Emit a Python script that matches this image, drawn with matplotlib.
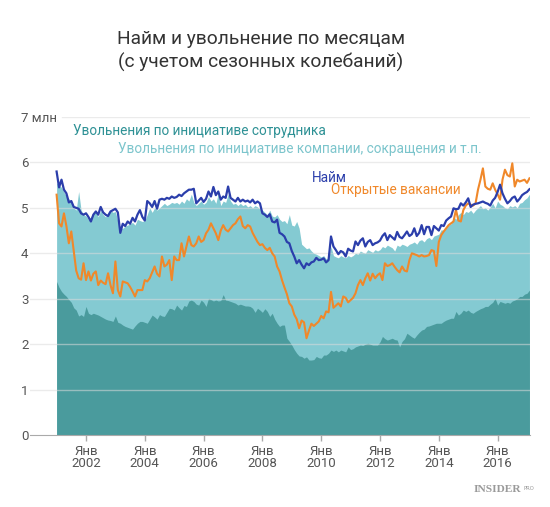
import matplotlib
matplotlib.use("Agg")
import matplotlib.pyplot as plt
import numpy as np

plt.rcParams["font.family"] = ["Roboto", "DejaVu Sans"]

# Monthly values, millions, Jan 2001 .. Feb 2017
hires = [
    5.80, 5.45, 5.62, 5.40, 5.32, 5.12, 5.15, 5.02, 5.00, 4.98, 4.88, 4.85,
    4.88, 4.80, 4.70, 4.85, 4.92, 4.85, 5.02, 4.90, 4.85, 4.82, 4.92, 4.95,
    4.98, 4.90, 4.45, 4.65, 4.60, 4.70, 4.65, 4.78, 4.70, 4.85, 4.95, 4.80,
    4.72, 5.15, 5.10, 5.02, 5.15, 4.98, 5.18, 5.20, 5.18, 5.22, 5.20, 5.25,
    5.22, 5.24, 5.29, 5.26, 5.32, 5.36, 5.40, 5.40, 5.42, 5.10, 5.16, 5.22,
    5.13, 5.20, 5.36, 5.25, 5.46, 5.28, 5.36, 5.18, 5.25, 5.22, 5.47, 5.22,
    5.18, 5.14, 5.22, 5.14, 5.18, 5.14, 5.16, 5.12, 5.18, 5.10, 5.14, 5.10,
    4.88, 4.85, 4.80, 4.86, 4.70, 4.68, 4.74, 4.45, 4.42, 4.37, 4.25, 4.22,
    4.05, 3.93, 3.78, 3.85, 3.75, 3.67, 3.78, 3.74, 3.80, 3.82, 3.90, 3.85,
    3.86, 3.89, 3.80, 3.85, 4.37, 4.15, 4.07, 3.98, 4.05, 4.02, 3.93, 4.10,
    4.06, 4.04, 4.26, 4.18, 4.28, 4.33, 4.15, 4.25, 4.29, 4.18, 4.22, 4.24,
    4.28, 4.38, 4.44, 4.29, 4.40, 4.35, 4.30, 4.47, 4.36, 4.33, 4.40, 4.48,
    4.38, 4.42, 4.55, 4.38, 4.45, 4.62, 4.42, 4.58, 4.58, 4.40, 4.60, 4.55,
    4.50, 4.62, 4.60, 4.72, 4.77, 4.81, 4.99, 4.97, 4.98, 5.10, 5.05, 5.12,
    5.21, 5.02, 5.07, 5.09, 5.10, 5.12, 5.14, 5.11, 5.09, 5.05, 5.16, 5.22,
    5.35, 5.51, 5.32, 5.20, 5.10, 5.15, 5.22, 5.25, 5.14, 5.20, 5.28, 5.32,
    5.35, 5.41,
]

openings = [
    5.29, 4.66, 4.59, 4.88, 4.60, 4.22, 4.48, 4.05, 3.62, 3.45, 3.42, 3.78,
    3.41, 3.60, 3.40, 3.55, 3.60, 3.30, 3.40, 3.35, 3.32, 3.56, 3.30, 3.12,
    3.82, 3.19, 3.05, 3.38, 3.36, 3.34, 3.26, 3.16, 3.05, 3.19, 3.19, 3.19,
    3.41, 3.38, 3.45, 3.58, 3.71, 3.55, 3.49, 3.93, 3.71, 3.75, 3.85, 3.41,
    3.93, 3.85, 3.85, 4.22, 3.93, 4.15, 4.37, 4.18, 4.15, 4.22, 4.37, 4.25,
    4.29, 4.44, 4.52, 4.66, 4.55, 4.44, 4.29, 4.50, 4.62, 4.52, 4.48, 4.55,
    4.62, 4.66, 4.75, 4.81, 4.60, 4.55, 4.62, 4.59, 4.45, 4.35, 4.25, 4.18,
    4.20, 4.12, 4.07, 4.12, 4.00, 3.93, 3.71, 3.60, 3.41, 3.25, 3.10, 2.90,
    2.83, 2.65, 2.55, 2.35, 2.52, 2.48, 2.13, 2.30, 2.45, 2.40, 2.45, 2.50,
    2.62, 2.57, 2.72, 2.70, 3.15, 2.80, 2.85, 2.90, 2.83, 3.05, 3.02, 2.92,
    2.97, 3.02, 3.12, 3.30, 3.41, 3.30, 3.45, 3.56, 3.40, 3.55, 3.45, 3.52,
    3.56, 3.41, 3.78, 3.72, 3.74, 3.78, 3.70, 3.63, 3.58, 3.71, 3.62, 3.60,
    3.85, 4.00, 3.98, 3.96, 3.93, 3.96, 3.93, 3.94, 3.96, 4.07, 4.05, 3.72,
    4.25, 4.40, 4.48, 4.55, 4.62, 4.66, 4.70, 4.96, 4.72, 4.70, 4.95, 5.05,
    5.10, 5.07, 5.05, 5.10, 5.40, 5.62, 5.87, 5.47, 5.42, 5.40, 5.54, 5.40,
    5.30, 5.18, 5.62, 5.84, 5.72, 5.69, 5.98, 5.47, 5.62, 5.58, 5.60, 5.62,
    5.55, 5.65,
]

# total separations (top of the light area)
separations = [
    5.55, 5.50, 5.45, 5.35, 5.25, 5.20, 5.10, 5.00, 4.95, 5.36, 4.95, 4.85,
    4.82, 4.75, 4.80, 4.90, 4.95, 4.80, 4.95, 4.85, 4.80, 4.90, 4.95, 4.90,
    4.92, 4.70, 4.55, 4.55, 4.60, 4.62, 4.65, 4.68, 4.62, 4.75, 4.72, 4.70,
    4.72, 4.85, 5.00, 4.90, 5.00, 4.95, 5.00, 5.05, 5.10, 5.05, 5.08, 5.12,
    5.10, 5.12, 5.08, 5.15, 5.10, 5.20, 5.15, 5.30, 5.12, 5.05, 5.10, 5.15,
    5.08, 5.12, 5.25, 5.15, 5.20, 5.10, 5.32, 5.05, 5.15, 5.12, 5.30, 5.15,
    5.08, 5.10, 5.05, 5.10, 5.05, 5.08, 5.02, 5.05, 5.00, 5.05, 5.02, 4.98,
    4.95, 4.90, 4.85, 4.95, 4.82, 4.80, 4.85, 4.75, 4.70, 4.72, 4.65, 4.85,
    4.62, 4.60, 4.70, 4.55, 4.20, 4.15, 4.10, 4.12, 4.05, 4.00, 3.98, 3.95,
    3.92, 3.95, 3.88, 3.90, 4.15, 3.95, 3.92, 3.90, 3.95, 3.92, 3.90, 3.95,
    3.92, 3.95, 4.00, 3.98, 4.05, 4.02, 4.00, 4.08, 4.05, 4.02, 4.08, 4.05,
    4.08, 4.15, 4.12, 4.18, 4.15, 4.12, 4.05, 4.18, 4.15, 4.20, 4.18, 4.15,
    4.20, 4.22, 4.25, 4.20, 4.28, 4.30, 4.25, 4.32, 4.35, 4.30, 4.38, 4.40,
    4.42, 4.52, 4.50, 4.58, 4.62, 4.65, 4.80, 4.75, 4.85, 4.90, 4.85, 4.92,
    4.90, 4.95, 4.88, 4.95, 5.00, 5.05, 4.98, 5.00, 4.95, 5.02, 5.10, 5.00,
    5.15, 5.08, 5.05, 5.00, 4.98, 5.05, 5.02, 5.05, 5.00, 5.10, 5.12, 5.18,
    5.22, 5.30,
]

# quits (top of the dark area)
quits = [
    3.38, 3.25, 3.16, 3.10, 3.05, 2.98, 2.92, 2.80, 2.75, 2.62, 2.65, 2.61,
    2.83, 2.68, 2.65, 2.68, 2.66, 2.64, 2.61, 2.58, 2.55, 2.53, 2.52, 2.50,
    2.62, 2.48, 2.46, 2.42, 2.39, 2.37, 2.35, 2.33, 2.40, 2.46, 2.50, 2.50,
    2.48, 2.46, 2.55, 2.64, 2.60, 2.55, 2.65, 2.62, 2.61, 2.70, 2.79, 2.78,
    2.75, 2.86, 2.80, 2.75, 2.85, 2.83, 2.95, 2.97, 2.94, 2.88, 2.86, 2.97,
    2.92, 2.83, 3.01, 2.98, 2.95, 2.97, 2.95, 2.96, 3.09, 2.97, 2.96, 2.94,
    2.92, 2.90, 2.86, 2.88, 2.86, 2.84, 2.84, 2.83, 2.79, 2.70, 2.79, 2.75,
    2.70, 2.78, 2.72, 2.61, 2.68, 2.55, 2.46, 2.39, 2.42, 2.42, 2.13, 2.06,
    1.98, 1.88, 1.80, 1.74, 1.73, 1.69, 1.72, 1.65, 1.65, 1.66, 1.73, 1.70,
    1.69, 1.76, 1.76, 1.80, 1.87, 1.84, 1.87, 1.83, 1.87, 1.85, 1.83, 1.94,
    1.88, 1.90, 1.94, 1.96, 1.98, 1.97, 2.00, 2.02, 2.00, 1.98, 1.98, 1.98,
    2.05, 2.17, 2.12, 2.09, 2.11, 2.13, 2.10, 2.09, 1.94, 2.06, 2.12, 2.24,
    2.20, 2.16, 2.13, 2.20, 2.26, 2.31, 2.33, 2.39, 2.40, 2.42, 2.44, 2.46,
    2.46, 2.46, 2.50, 2.53, 2.55, 2.57, 2.57, 2.72, 2.64, 2.68, 2.75, 2.72,
    2.75, 2.70, 2.68, 2.72, 2.75, 2.78, 2.80, 2.83, 2.83, 2.88, 2.92, 3.01,
    2.86, 2.94, 2.92, 2.90, 2.92, 2.90, 2.95, 2.97, 3.00, 3.05, 3.05, 3.10,
    3.12, 3.19,
]

tick_years = [2002, 2004, 2006, 2008, 2010, 2012, 2014, 2016]
y_ticks = [0, 1, 2, 3, 4, 5, 6, 7]
y_labels = ["0", "1", "2", "3", "4", "5", "6", "7 млн"]

DARK = "#4a9b9d"
LIGHT = "#84cad2"
BLUE = "#2b3eab"
ORANGE = "#f0882a"
GRAY = "#555555"

t = 2001 + np.arange(len(hires)) / 12.0

W, H = 550, 507
fig = plt.figure(figsize=(W / 100, H / 100), dpi=100)
ax_l, ax_r, ax_b, ax_t = 30, 530, 435, 117
ax = fig.add_axes([ax_l / W, 1 - ax_b / H, (ax_r - ax_l) / W, (ax_b - ax_t) / H])

ax.fill_between(t, 0, separations, color=LIGHT, lw=0, zorder=1)
ax.fill_between(t, 0, quits, color=DARK, lw=0, zorder=2)
ax.plot(t, openings, color=ORANGE, lw=1.5, zorder=5)
ax.plot(t, hires, color=BLUE, lw=1.6, zorder=6)

x0 = 2002 - (86 - ax_l) / 29.4
x1 = 2002 + (ax_r - 86) / 29.4
ax.set_xlim(x0, x1)
ax.set_ylim(0, 7)

for v in y_ticks[1:]:
    start = (62 - ax_l) / (ax_r - ax_l) if v == 7 else 0
    ax.axhline(v, xmin=start, xmax=0.997, color="#dcdcdc", lw=1, alpha=0.55, zorder=3)

for s in ["top", "right", "left"]:
    ax.spines[s].set_visible(False)
ax.spines["bottom"].set_color("#aaaaaa")
ax.spines["bottom"].set_zorder(7)

ax.set_yticks(y_ticks)
ax.set_yticklabels(y_labels)
ax.tick_params(axis="y", length=0, pad=6.5, labelsize=9.5, labelcolor=GRAY)
for lab in ax.get_yticklabels():
    lab.set_horizontalalignment("left")

ax.set_xticks(tick_years)
ax.set_xticklabels([f"Янв\n{y}" for y in tick_years], linespacing=0.95)
ax.tick_params(axis="x", length=4, width=1, color="#aaaaaa", pad=3,
               labelsize=9.5, labelcolor=GRAY)


def px(x, y):
    return x / W, 1 - y / H


# series labels
fig.text(*px(73, 131), "Увольнения по инициативе сотрудника", color="#2e9195",
         fontsize=9.8, ha="left", va="center")
fig.text(*px(118, 149), "Увольнения по инициативе компании, сокращения и т.п.",
         color="#7cc5cc", fontsize=9.8, ha="left", va="center")
fig.text(*px(312, 178), "Найм", color=BLUE, fontsize=9.8, ha="left", va="center")
fig.text(*px(331, 190), "Открытые вакансии", color=ORANGE, fontsize=9.8,
         ha="left", va="center")

fig.text(*px(261, 51), "Найм и увольнение по месяцам\n(с учетом сезонных колебаний)",
         color="#333333", fontsize=13.8, ha="center", va="center", linespacing=1.3)

fig.text(*px(474, 490), "INSIDER", family="Liberation Serif", weight="bold",
         color="#9a9a9a", fontsize=8.2, ha="left", va="center")
fig.text(*px(523, 488), "PRO", family="DejaVu Sans", color="#9a9a9a",
         fontsize=3.8, ha="left", va="center")

fig.savefig("out.png", dpi=100)
